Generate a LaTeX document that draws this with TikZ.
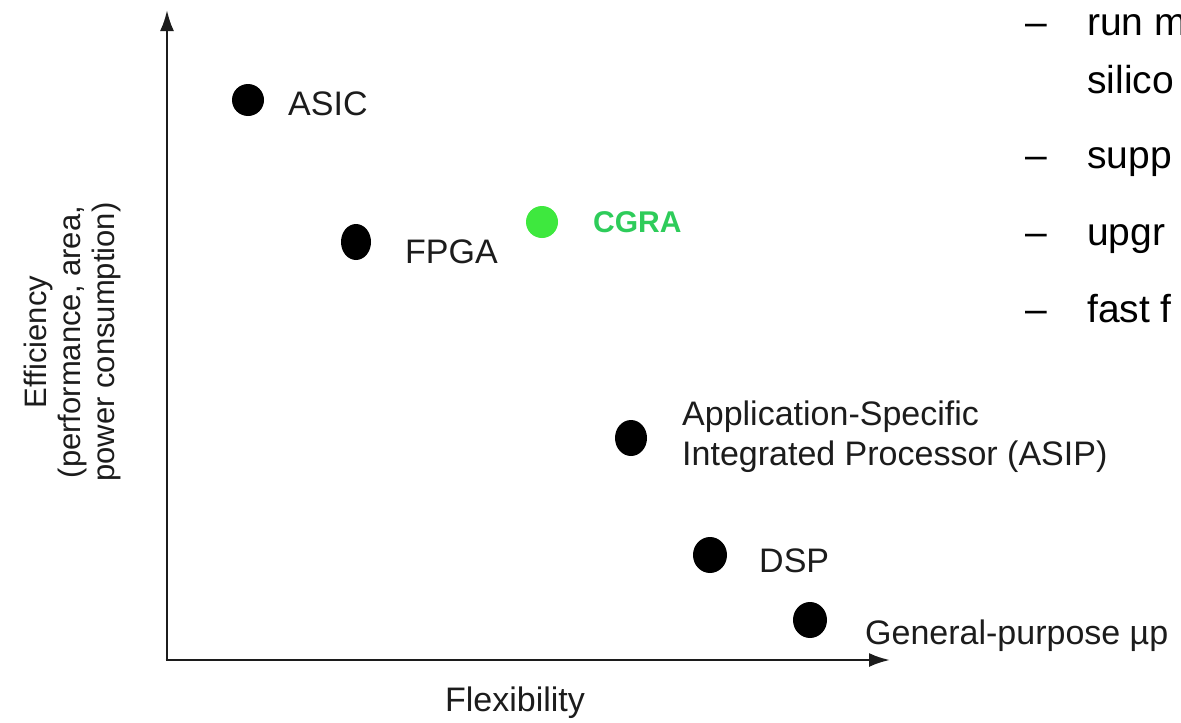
\documentclass[tikz,border=0pt]{standalone}
\usepackage{fontspec}
\setmainfont{Liberation Sans}
\usetikzlibrary{arrows.meta}
\definecolor{inkgray}{HTML}{1C1C1C}
\definecolor{dotgreen}{HTML}{3EE83E}
\definecolor{labelgreen}{HTML}{2ECC5A}
\tikzset{
  axis/.style={line width=2.6pt, inkgray, -{Latex[length=21pt,width=14pt]}},
  lbl/.style={inkgray, anchor=base west, inner sep=0pt, font=\fontsize{34}{38}\selectfont},
  bullet/.style={black, anchor=base west, inner sep=0pt, font=\fontsize{39}{44}\selectfont},
}
\begin{document}
\begin{tikzpicture}[x=1pt,y=-1pt]
  \clip (0,0) rectangle (1181,723);
  \fill[white] (0,0) rectangle (1181,723);

  % axes
  \coordinate (origin) at (167,660);
  \coordinate (ytop) at (167,10);
  \coordinate (xend) at (890,660);
  \draw[axis] (origin) -- (ytop);
  \draw[axis] ([xshift=-1.3pt]origin) -- (xend);

  % axis titles
  \node[inkgray, font=\fontsize{34}{38}\selectfont] (flex) at (515,703) {Flexibility};
  \node[inkgray, rotate=90, align=center, font=\fontsize{31}{34}\selectfont] (eff) at (72,342)
    {Efficiency\\(performance, area,\\power consumption)};

  % design points
  \fill[black] (248,100) circle [x radius=16pt, y radius=16pt];
  \fill[black] (356,242) circle [x radius=15pt, y radius=18pt];
  \fill[dotgreen] (542,222) circle [radius=16pt];
  \fill[black] (631,438) circle [x radius=16pt, y radius=18pt];
  \fill[black] (710,555) circle [x radius=17pt, y radius=18pt];
  \fill[black] (810,620) circle [x radius=17pt, y radius=18pt];

  % labels
  \node[lbl] (asic) at (288,115) {ASIC};
  \node[lbl] (fpga) at (405,263) {FPGA};
  \node[anchor=base west, inner sep=0pt, labelgreen, font=\fontsize{30}{34}\selectfont\bfseries] (cgra) at (593,232) {CGRA};
  \node[lbl] (asip1) at (682,425) {Application-Specific};
  \node[lbl] (asip2) at (682,465) {Integrated Processor (ASIP)};
  \node[lbl] (dsp) at (759,572) {DSP};
  \node[lbl] (gpp) at (865,644) {General-purpose µp};

  % list on the right
  \node[bullet] (d1) at (1025,35) {–};
  \node[bullet] (t1) at (1087,35) {run m};
  \node[bullet] (t1b) at (1087,93) {silico};
  \node[bullet] (d2) at (1025,168) {–};
  \node[bullet] (t2) at (1087,168) {supp};
  \node[bullet] (d3) at (1025,245) {–};
  \node[bullet] (t3) at (1087,245) {upgr};
  \node[bullet] (d4) at (1025,322) {–};
  \node[bullet] (t4) at (1087,322) {fast f};
\end{tikzpicture}
\end{document}
